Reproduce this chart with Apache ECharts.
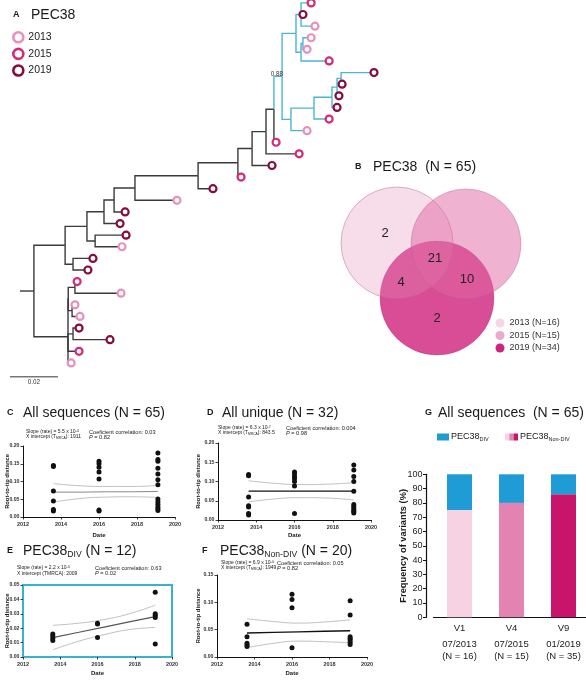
<!DOCTYPE html>
<html>
<head>
<meta charset="utf-8">
<title>PEC38</title>
<script src="https://cdn.jsdelivr.net/npm/echarts@6/dist/echarts.min.js"></script>
<style>
html,body{margin:0;padding:0;background:#ffffff;}
#chart{width:586px;height:680px;}
</style>
</head>
<body>
<div id="chart"></div>
<script>
// ===================== DATA =====================
// Panel A - phylogenetic tree (divergence in substitutions/site, leaves listed top to bottom)
const yearLabels = ['2013', '2015', '2019'];
const leafDiv = [0.1213,0.1179,0.1229,0.1213,0.1196,0.1288,0.1475,0.1342,0.1329,0.1321,0.1288,0.1196,
                 0.1067,0.1163,0.1050,0.0921,0.0804,0.0654,0.0438,0.0417,0.0442,0.0425,0.0304,0.0283,
                 0.0238,0.0421,0.0229,0.0250,0.0246,0.0375,0.0246,0.0213];
const leafYear = [1,2,0,0,0,1,2,2,2,2,1,0,1,1,2,1,2,0,2,2,2,0,2,2,1,0,0,0,2,2,1,0];
const nodeIds = ['R','N1','N1b','N2','N2b','N3','N4','N5','N6','N7','N8','N9','N10',
                 'B0','B1','B1a','B1b','B1c','B2','B3','B4','B5','B6','L','L12','L1','L2','L3'];
const nodeDiv = [0.0058,0.0188,0.0221,0.0279,0.0313,0.0350,0.0392,0.0479,0.0742,0.0908,0.0967,0.1025,0.1058,
                 0.1092,0.1150,0.1171,0.1171,0.1179,0.1129,0.1225,0.1300,0.1321,0.1338,0.0200,0.0201,0.0229,0.0217,0.0221];
const nodeChildren = [['N1','L'],['N2','N1b'],[23,24],['N3','N2b'],[21,22],['N4',20],['N5',19],['N6',18],['N7',17],
                 ['N8',16],['N9',15],['N10',14],['B0',13],['B1','B2'],['B1a','B1b'],[1,2,3],['B1c',6],[4,5],
                 ['B3',12],['B4',11],['B5',10],['B6',9],[7,8],['L12','L3',31,32],['L1','L2'],[25,26],[27,28],[29,30]];
const divCladeRoot = 'B0';
const supportNode = 'B0';
const supportValue = '0.88';
const scaleBarLength = 0.02;

// Panel B - Venn diagram
const vennSets = ['2013', '2015', '2019'];
const vennSetN = [16, 15, 34];
const vennRegions = ['2013 only', '2013 & 2019', '2013 & 2015 & 2019', '2015 & 2019', '2019 only'];
const vennCounts = [2, 4, 21, 10, 2];

// Panels C-F - root-to-tip regressions
const sampleDates = [2013.6, 2016.0, 2019.1];
const rttAll = [[0.145,0.142,0.073,0.045,0.021,0.017],
                [0.157,0.150,0.140,0.127,0.107,0.020,0.017],
                [0.180,0.162,0.157,0.137,0.121,0.105,0.091,0.051,0.043,0.036,0.029,0.023,0.018]];
const rttUnique = [[0.118,0.115,0.060,0.037,0.034,0.017,0.013],
                   [0.125,0.120,0.113,0.108,0.100,0.088,0.017],
                   [0.143,0.130,0.113,0.100,0.075,0.040,0.035,0.030,0.025,0.022,0.018]];
const rttDiv = [[0.016,0.0145,0.013,0.0115],
                [0.0235,0.023,0.0135],
                [0.045,0.030,0.029,0.0275,0.009]];
const rttNonDiv = [[0.060,0.037,0.025,0.022,0.019],
                   [0.115,0.105,0.090,0.017],
                   [0.103,0.077,0.037,0.034,0.031,0.027,0.023]];
const fitDates = [2013.6, 2015.0, 2016.35, 2017.7, 2019.1];
const fitAll = [0.070,0.070,0.071,0.071,0.072];
const ciUpAll = [0.094,0.088,0.086,0.086,0.089];
const ciLoAll = [0.042,0.052,0.056,0.057,0.055];
const fitUnique = [0.075,0.075,0.075,0.075,0.075];
const ciUpUnique = [0.102,0.095,0.092,0.093,0.097];
const ciLoUnique = [0.047,0.055,0.058,0.057,0.052];
const fitDiv = [0.0135,0.0172,0.0208,0.0244,0.028];
const ciUpDiv = [0.022,0.0235,0.026,0.030,0.036];
const ciLoDiv = [0.005,0.011,0.0155,0.019,0.0205];
const fitNonDiv = [0.044,0.045,0.046,0.047,0.048];
const ciUpNonDiv = [0.070,0.065,0.062,0.064,0.068];
const ciLoNonDiv = [0.017,0.025,0.029,0.028,0.026];
const statSlope = ['5.5', '6.3', '2.2', '6.9'];
const statExp = ['-4', '-7', '-3', '-4'];
const statTmrca = ['1911', '843.5', '2009', '1949'];
const statR = ['0.03', '0.004', '0.63', '0.05'];
const statP = ['0.82', '0.98', '0.02', '0.82'];

// Panel G - variant frequencies
const visitLabels = ['V1', 'V4', 'V9'];
const visitDates = ['07/2013', '07/2015', '01/2019'];
const visitN = [16, 15, 35];
const pctNonDiv = [75, 80, 86];
const pctDiv = [25, 20, 14];

// ===================== STYLE =====================
const FONT = "'Liberation Sans', Arial, Helvetica, sans-serif";
const TXT = '#1a1a1a';
const yearColors = ['#e691bd', '#d42a78', '#850c40'];
const treeBlack = '#3a3a3a';
const treeBlue = '#4bb6d1';
const vennFill = ['rgba(228,142,182,0.30)', 'rgba(223,103,163,0.50)', '#d84d95'];
const vennStroke = ['rgba(180,90,135,0.55)', 'rgba(180,90,135,0.45)', 'rgba(170,40,110,0.4)'];
const vennLegendColors = ['#f5d6e5', '#eba9cb', '#d0237a'];
const divColor = '#1f9bd5';
const nonDivColors = ['#f7d2e3', '#e383b2', '#c8146b'];
const boxColor = '#3ab0d2';

// ===================== TREE LAYOUT =====================
const nodeIndex = {};
nodeIds.forEach((id, i) => { nodeIndex[id] = i; });
function posOf(ref) {
  if (typeof ref === 'number') return { d: leafDiv[ref - 1], y: ref };
  const i = nodeIndex[ref];
  const ys = nodeChildren[i].map(c => posOf(c).y);
  return { d: nodeDiv[i], y: ys.reduce((a, b) => a + b, 0) / ys.length };
}
const blueSet = new Set();
(function mark(ref) { blueSet.add(ref); if (typeof ref !== 'number') nodeChildren[nodeIndex[ref]].forEach(mark); })(divCladeRoot);
const parentOf = {};
nodeIds.forEach((id, i) => nodeChildren[i].forEach(c => { parentOf[c] = id; }));
const edges = [];
const rootPos = posOf('R');
edges.push([0, rootPos.y, rootPos.d, rootPos.y, 0]);
nodeIds.forEach((id, i) => {
  const p = posOf(id);
  nodeChildren[i].forEach(c => {
    const q = posOf(c);
    edges.push([p.d, p.y, q.d, q.y, blueSet.has(c) ? 1 : 0]);
  });
});
const supPos = posOf(supportNode);
const supParent = posOf(parentOf[supportNode]);

// ===================== HELPERS =====================
function txt(x, y, text, extra) {
  return { type: 'text', x: x, y: y, silent: true, z: 50,
    style: Object.assign({ text: text, fontFamily: FONT, fontSize: 14, fill: TXT, verticalAlign: 'middle', align: 'left' }, extra || {}) };
}
function tok(size, more) { return Object.assign({ fontFamily: FONT, fontSize: size, fill: TXT }, more || {}); }
function subTitle(x, y, main, sub, rest) {
  return txt(x, y, '{m|' + main + '}{s|' + sub + '}{m|' + rest + '}', {
    rich: { m: tok(14, { lineHeight: 16 }), s: tok(8.6, { lineHeight: 8, verticalAlign: 'bottom' }) } });
}
function statTexts(k, xl, xr, y1, y2, plainT) {
  const L = { t: tok(5.0, { lineHeight: 6 }), sup: tok(3.6, { lineHeight: 6, verticalAlign: 'top' }),
              sub: tok(3.3, { lineHeight: 6, verticalAlign: 'bottom' }) };
  const R = { t: tok(5.6, { lineHeight: 6 }), i: tok(5.6, { lineHeight: 6, fontStyle: 'italic' }) };
  const line2 = plainT ? '{t|X intercept (TMRCA): ' + statTmrca[k] + '}' : '{t|X intercept (T}{sub|MRCA}{t|): ' + statTmrca[k] + '}';
  return [
    txt(xl, y1, '{t|Slope (rate) = ' + statSlope[k] + ' x 10}{sup|' + statExp[k] + '}', { rich: L }),
    txt(xl, y2, line2, { rich: L }),
    txt(xr, y1, '{t|Coeficient correlation: ' + statR[k] + '}', { rich: R }),
    txt(xr, y2, '{i|P}{t| = ' + statP[k] + '}', { rich: R })
  ];
}

// ===================== SCATTER PANELS =====================
const panelDefs = [
  { grid: { left: 23, top: 446, width: 152, height: 71 }, yMax: 0.20, yInt: 0.05, gapY: 13, gapX: 15, fitColor: '#8a8a8a', fitW: 1, box: false,
    rtt: rttAll, fit: fitAll, up: ciUpAll, lo: ciLoAll },
  { grid: { left: 218, top: 443, width: 153, height: 77 }, yMax: 0.20, yInt: 0.05, gapY: 17, gapX: 12, fitColor: '#111', fitW: 1.4, box: false,
    rtt: rttUnique, fit: fitUnique, up: ciUpUnique, lo: ciLoUnique },
  { grid: { left: 23, top: 585, width: 149, height: 72 }, yMax: 0.05, yInt: 0.01, gapY: 13, gapX: 13, fitColor: '#555', fitW: 1.2, box: true,
    rtt: rttDiv, fit: fitDiv, up: ciUpDiv, lo: ciLoDiv },
  { grid: { left: 217, top: 575, width: 150, height: 82 }, yMax: 0.15, yInt: 0.05, gapY: 16, gapX: 13, fitColor: '#111', fitW: 1.4, box: false,
    rtt: rttNonDiv, fit: fitNonDiv, up: ciUpNonDiv, lo: ciLoNonDiv }
];

const grids = [], xAxes = [], yAxes = [], series = [];

// --- tree grid (index 0)
grids.push({ left: 20, top: 0, width: 360, height: 368.7, outerBoundsMode: 'none' });
xAxes.push({ type: 'value', gridIndex: 0, min: 0, max: 0.15, show: false });
yAxes.push({ type: 'value', gridIndex: 0, min: 0.75, max: 32.5, inverse: true, show: false });
series.push({
  type: 'custom', name: 'branches', xAxisIndex: 0, yAxisIndex: 0, silent: true, clip: false, z: 2,
  encode: { x: [0, 2], y: [1, 3] },
  data: edges,
  renderItem: function (params, api) {
    const p0 = api.coord([api.value(0), api.value(1)]);
    const p1 = api.coord([api.value(0), api.value(3)]);
    const p2 = api.coord([api.value(2), api.value(3)]);
    return { type: 'polyline', shape: { points: [p0, p1, p2] },
      style: { stroke: api.value(4) ? treeBlue : treeBlack, lineWidth: 1.4, fill: null } };
  }
});
yearLabels.forEach((yl, yi) => {
  const pts = [];
  leafDiv.forEach((d, i) => { if (leafYear[i] === yi) pts.push([d, i + 1]); });
  series.push({ type: 'scatter', name: yl, xAxisIndex: 0, yAxisIndex: 0, clip: false, z: 4, silent: true,
    symbol: 'circle', symbolSize: 7, data: pts,
    itemStyle: { color: '#ffffff', borderColor: yearColors[yi], borderWidth: 2.2, opacity: 1 } });
});
series.push({
  type: 'custom', name: 'treeNotes', xAxisIndex: 0, yAxisIndex: 0, silent: true, clip: false, z: 5,
  data: [[supParent.d, supPos.y, 0], [-0.0042, 33.2, 1]],
  renderItem: function (params, api) {
    const p = api.coord([api.value(0), api.value(1)]);
    if (api.value(2) === 0) {
      return { type: 'text', x: p[0] + 3, y: p[1] - 2,
        style: { text: supportValue, fontFamily: FONT, fontSize: 6.3, fill: '#333', align: 'center', verticalAlign: 'middle' } };
    }
    const q = api.coord([api.value(0) + scaleBarLength, api.value(1)]);
    return { type: 'group', children: [
      { type: 'line', shape: { x1: p[0], y1: p[1], x2: q[0], y2: q[1] }, style: { stroke: '#333', lineWidth: 1 } },
      { type: 'text', x: (p[0] + q[0]) / 2, y: p[1] + 5,
        style: { text: String(scaleBarLength), fontFamily: FONT, fontSize: 6.3, fill: '#333', align: 'center', verticalAlign: 'middle' } }
    ] };
  }
});

// --- Venn (coordinate-free layout)
const vennCenters = [[397, 243], [466, 244], [437, 298]];
const vennRadius = [56, 55, 57];
const vennLabelPos = [[385, 233], [401, 282], [435, 258], [467, 279], [437, 318]];
[2, 0, 1].forEach((si, order) => {
  series.push({
    type: 'custom', name: vennSets[si] + ' (N=' + vennSetN[si] + ')', coordinateSystem: 'none', silent: true, z: 2 + order,
    itemStyle: { color: vennLegendColors[si] },
    data: [[vennSetN[si]]],
    renderItem: function () {
      return { type: 'circle', shape: { cx: vennCenters[si][0], cy: vennCenters[si][1], r: vennRadius[si] },
        style: { fill: vennFill[si], stroke: vennStroke[si], lineWidth: 0.8 } };
    }
  });
});
series.push({
  type: 'custom', name: 'vennCounts', coordinateSystem: 'none', silent: true, z: 10,
  data: vennCounts.map((c, i) => [c, i]),
  renderItem: function (params, api) {
    const i = params.dataIndex;
    return { type: 'text', x: vennLabelPos[i][0], y: vennLabelPos[i][1],
      style: { text: String(api.value(0)), fontFamily: FONT, fontSize: 13, fill: '#222', align: 'center', verticalAlign: 'middle' } };
  }
});

// --- scatter panels (grid 1..4)
panelDefs.forEach((pd, k) => {
  const gi = k + 1;
  grids.push(Object.assign({ outerBoundsMode: 'none' }, pd.grid,
    pd.box ? { show: true, borderColor: boxColor, borderWidth: 2, backgroundColor: 'transparent' } : {}));
  const axisCol = pd.box ? boxColor : '#111';
  const axisW = pd.box ? 2 : 1;
  xAxes.push({
    type: 'value', gridIndex: gi, min: 2012, max: 2020, interval: 2,
    name: 'Date', nameLocation: 'middle', nameGap: pd.gapX, nameMoveOverlap: false,
    nameTextStyle: { fontFamily: FONT, fontSize: 6, fontWeight: 'bold', color: TXT },
    axisLine: { show: true, onZero: false, lineStyle: { color: axisCol, width: axisW } },
    axisTick: { show: true, length: 2.5, lineStyle: { color: '#111', width: 0.8 } },
    axisLabel: { fontFamily: FONT, fontSize: 5.5, fontWeight: 'bold', color: '#333', margin: 4,
      formatter: v => String(v), showMinLabel: true, showMaxLabel: true },
    splitLine: { show: false }
  });
  yAxes.push({
    type: 'value', gridIndex: gi, min: 0, max: pd.yMax, interval: pd.yInt,
    name: 'Root-to-tip distance', nameLocation: 'middle', nameRotate: 90, nameGap: pd.gapY, nameMoveOverlap: false,
    nameTextStyle: { fontFamily: FONT, fontSize: 5.8, fontWeight: 'bold', color: TXT },
    axisLine: { show: true, onZero: false, lineStyle: { color: axisCol, width: axisW } },
    axisTick: { show: true, length: 2.5, lineStyle: { color: '#111', width: 0.8 } },
    axisLabel: { fontFamily: FONT, fontSize: 5.2, fontWeight: 'bold', color: '#333', margin: 3.5,
      formatter: v => v.toFixed(2), showMinLabel: true, showMaxLabel: true },
    splitLine: { show: false }
  });
  const pts = [];
  pd.rtt.forEach((col, ci) => col.forEach(v => pts.push([sampleDates[ci], v])));
  const zip = arr => fitDates.map((d, i) => [d, arr[i]]);
  series.push({ type: 'line', xAxisIndex: gi, yAxisIndex: gi, data: zip(pd.up), smooth: true, symbol: 'none', silent: true,
    lineStyle: { color: '#b0b0b0', width: 0.8 }, z: 2 });
  series.push({ type: 'line', xAxisIndex: gi, yAxisIndex: gi, data: zip(pd.lo), smooth: true, symbol: 'none', silent: true,
    lineStyle: { color: '#b0b0b0', width: 0.8 }, z: 2 });
  series.push({ type: 'line', xAxisIndex: gi, yAxisIndex: gi, data: zip(pd.fit), symbol: 'none', silent: true,
    lineStyle: { color: pd.fitColor, width: pd.fitW }, z: 3 });
  series.push({ type: 'scatter', xAxisIndex: gi, yAxisIndex: gi, data: pts, symbolSize: 5, silent: true, clip: false,
    itemStyle: { color: '#111', opacity: 1 }, z: 4 });
});

// --- panel G (grid 5)
grids.push({ left: 433.5, top: 474.3, width: 156, height: 143, outerBoundsMode: 'none' });
xAxes.push({
  type: 'category', gridIndex: 5, data: visitLabels,
  axisLine: { show: true, lineStyle: { color: '#111', width: 1.2 } },
  axisTick: { show: false },
  axisLabel: { margin: 1, interval: 0,
    formatter: (v, i) => '{a|' + v + '}\n{b|' + visitDates[i] + '}\n{b|(N = ' + visitN[i] + ')}',
    rich: { a: { fontFamily: FONT, fontSize: 9.5, color: '#222', lineHeight: 20 },
            b: { fontFamily: FONT, fontSize: 9.5, color: '#222', lineHeight: 12 } } }
});
yAxes.push({
  type: 'value', gridIndex: 5, min: 0, max: 100, interval: 10, offset: 7.5,
  name: 'Frequency of variants (%)', nameLocation: 'middle', nameRotate: 90, nameGap: 18, nameMoveOverlap: false,
  nameTextStyle: { fontFamily: FONT, fontSize: 9.3, fontWeight: 'bold', color: TXT },
  axisLine: { show: true, lineStyle: { color: '#111', width: 1.2 } },
  axisTick: { show: true, length: 3, lineStyle: { color: '#111', width: 1 } },
  axisLabel: { fontFamily: FONT, fontSize: 9, color: '#222', margin: 3.5 },
  splitLine: { show: false }
});
series.push({ type: 'bar', name: 'PEC38 Non-DIV', xAxisIndex: 5, yAxisIndex: 5, stack: 'g', barWidth: 25, silent: true,
  data: pctNonDiv.map((v, i) => ({ value: v, itemStyle: { color: nonDivColors[i] } })) });
series.push({ type: 'bar', name: 'PEC38 DIV', xAxisIndex: 5, yAxisIndex: 5, stack: 'g', barWidth: 25, silent: true,
  itemStyle: { color: divColor }, data: pctDiv });

// ===================== GRAPHIC TEXT =====================
const graphics = [
  txt(13, 15, 'A', { fontSize: 9, fontWeight: 'bold' }),
  txt(31, 15, 'PEC38', { fontSize: 14 }),
  txt(355, 167, 'B', { fontSize: 9, fontWeight: 'bold' }),
  txt(373, 167, 'PEC38  (N = ' + (vennSetN.reduce((a, b) => a + b, 0)) + ')', { fontSize: 14 }),
  txt(7, 413, 'C', { fontSize: 9, fontWeight: 'bold' }),
  txt(23, 413, 'All sequences (N = 65)', { fontSize: 14 }),
  txt(207, 413, 'D', { fontSize: 9, fontWeight: 'bold' }),
  txt(222, 413, 'All unique (N = ' + leafDiv.length + ')', { fontSize: 14 }),
  txt(7, 551, 'E', { fontSize: 9, fontWeight: 'bold' }),
  subTitle(23, 551, 'PEC38', 'DIV', ' (N = 12)'),
  txt(202, 551, 'F', { fontSize: 9, fontWeight: 'bold' }),
  subTitle(220, 551, 'PEC38', 'Non-DIV', ' (N = 20)'),
  txt(425, 413, 'G', { fontSize: 9, fontWeight: 'bold' }),
  txt(438, 413, 'All sequences  (N = 65)', { fontSize: 14 }),
  { type: 'rect', shape: { x: 437, y: 433.5, width: 12, height: 7 }, style: { fill: divColor }, silent: true },
  txt(451, 437, '{m|PEC38}{s|DIV}', { rich: { m: tok(9, { lineHeight: 10 }), s: tok(5.5, { lineHeight: 5, verticalAlign: 'bottom' }) } }),
  { type: 'rect', shape: { x: 505, y: 433.5, width: 4.3, height: 7 }, style: { fill: nonDivColors[0] }, silent: true },
  { type: 'rect', shape: { x: 509.3, y: 433.5, width: 4.3, height: 7 }, style: { fill: nonDivColors[1] }, silent: true },
  { type: 'rect', shape: { x: 513.6, y: 433.5, width: 4.4, height: 7 }, style: { fill: nonDivColors[2] }, silent: true },
  txt(520, 437, '{m|PEC38}{s|Non-DIV}', { rich: { m: tok(9, { lineHeight: 10 }), s: tok(5.5, { lineHeight: 5, verticalAlign: 'bottom' }) } })
].concat(
  statTexts(0, 26, 89, 432, 437, false),
  statTexts(1, 218, 286, 428, 433, false),
  statTexts(2, 17, 95, 568, 573.5, true),
  statTexts(3, 221, 277, 563, 568, false)
);

// ===================== OPTION =====================
const chart = echarts.init(document.getElementById('chart'), null, { renderer: 'canvas' });
chart.setOption({
  animation: false,
  backgroundColor: '#ffffff',
  textStyle: { fontFamily: FONT },
  grid: grids,
  xAxis: xAxes,
  yAxis: yAxes,
  legend: [
    { data: yearLabels.map((y, i) => ({ name: y, icon: 'circle', itemStyle: { color: '#ffffff', borderColor: yearColors[i], borderWidth: 2.6 } })),
      orient: 'vertical', left: 12, top: 31, padding: 0, itemWidth: 10, itemHeight: 10, itemGap: 4, selectedMode: false,
      textStyle: { fontFamily: FONT, fontSize: 10.5, color: '#222' } },
    { data: vennSets.map((s, i) => ({ name: s + ' (N=' + vennSetN[i] + ')', icon: 'circle', itemStyle: { color: vennLegendColors[i], borderWidth: 0 } })),
      orient: 'vertical', left: 495.5, top: 318.5, padding: 0, itemWidth: 9, itemHeight: 9, itemGap: 3.5, selectedMode: false,
      textStyle: { fontFamily: FONT, fontSize: 9, color: '#333' } }
  ],
  graphic: graphics,
  series: series
});
</script>
</body>
</html>
